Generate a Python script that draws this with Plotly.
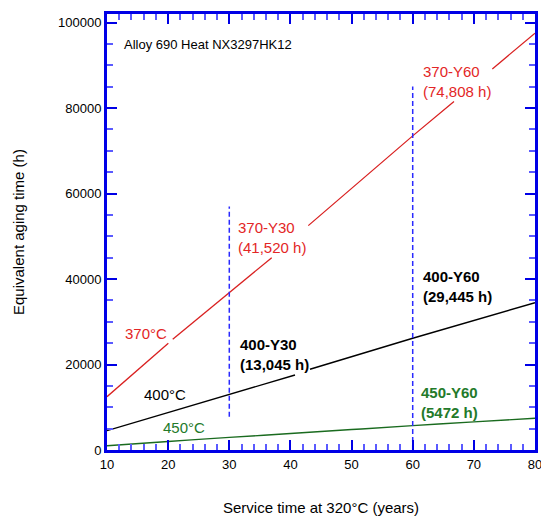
import plotly.graph_objects as go

# ---- data ----
red_x = [10, 20.03, None, 20.75, 30, 36.94, None, 42.92, 60, 66.75, None, 73.02, 80]
red_y = [12470, 24970, None, 25910, 36740, 45000, None, 52490, 73490, 81510, None, 89160, 97520]

black_x = [10, 20, 30, 40.75, None, 43.2, 60, 80]
black_y = [4520, 8800, 13030, 17550, None, 18890, 26140, 34470]

green_x = [10, 20, 30, 40, 50, 60, 70, 80]
green_y = [1000, 2000, 2950, 3850, 4780, 5700, 6580, 7420]

dash30_x = [30, 30]
dash30_y = [7790, 56940]
dash60_x = [60, 60]
dash60_y = [0, 85020]

x_tick_step, x_minor_step = 10, 2
y_tick_step, y_minor_step = 20000, 5000

labels = [
    ("Alloy 690 Heat NX3297HK12", 12.66, 94900, "#000000", False),
    ("370°C", 12.78, 27260, "#e32626", False),
    ("370-Y30<br>(41,520 h)", 31.31, 49820, "#e32626", False),
    ("370-Y60<br>(74,808 h)", 61.47, 86120, "#e32626", False),
    ("400°C", 15.94, 13030, "#000000", False),
    ("400-Y30<br>(13,045 h)", 31.64, 22350, "#000000", True),
    ("400-Y60<br>(29,445 h)", 61.47, 38150, "#000000", True),
    ("450°C", 18.95, 5310, "#237a2a", False),
    ("450-Y60<br>(5472 h)", 61.19, 11120, "#237a2a", True),
]

FONT = "Liberation Sans, Arial, sans-serif"
AXC = "#0000e6"

fig = go.Figure()
fig.add_trace(go.Scatter(x=red_x, y=red_y, mode="lines", line=dict(color="#d92020", width=1.3),
                         showlegend=False))
fig.add_trace(go.Scatter(x=black_x, y=black_y, mode="lines", line=dict(color="#000000", width=1.4),
                         showlegend=False))
fig.add_trace(go.Scatter(x=green_x, y=green_y, mode="lines", line=dict(color="#1a6b1f", width=1.4),
                         line_shape="spline", showlegend=False))
for dx, dy in ((dash30_x, dash30_y), (dash60_x, dash60_y)):
    fig.add_trace(go.Scatter(x=dx, y=dy, mode="lines",
                             line=dict(color="#2a2aff", width=1.5, dash="5px,3px"),
                             showlegend=False))

for text, x, y, color, bold in labels:
    fig.add_annotation(x=x, y=y, xref="x", yref="y", text=(f"<b>{text}</b>" if bold else text),
                       showarrow=False, xanchor="left", yanchor="middle", align="left",
                       font=dict(family=FONT, size=15 if "Alloy" not in text else 13, color=color),
                       borderpad=0)

fig.add_annotation(x=0.5, y=0, xref="paper", yref="paper", text="Service time at 320°C (years)",
                   showarrow=False, xanchor="center", yanchor="middle", yshift=-57,
                   font=dict(family=FONT, size=15, color="#000000"))
fig.add_annotation(x=0, y=0.5, xref="paper", yref="paper", text="Equivalent aging time (h)",
                   showarrow=False, xanchor="center", yanchor="middle", xshift=-89, textangle=-90,
                   font=dict(family=FONT, size=15, color="#000000"))

fig.update_xaxes(range=[10, 80], showline=True, linecolor=AXC, linewidth=3, mirror="ticks",
                 ticks="inside", ticklen=10, tickwidth=2, tickcolor=AXC,
                 dtick=x_tick_step, tick0=10, tickmode="linear",
                 minor=dict(ticks="inside", ticklen=6, tickcolor="#5a5aff", dtick=x_minor_step,
                            tick0=10, tickmode="linear"),
                 ticklabeloverflow="allow", automargin=False,
                 tickfont=dict(family=FONT, size=13, color="#000000"))
fig.update_yaxes(range=[0, 102000], showline=True, linecolor=AXC, linewidth=3, mirror="ticks",
                 ticks="inside", ticklen=10, tickwidth=2, tickcolor=AXC,
                 dtick=y_tick_step, tick0=0, tickmode="linear", tickformat="d",
                 minor=dict(ticks="inside", ticklen=6, tickcolor="#5a5aff", dtick=y_minor_step),
                 automargin=False,
                 tickfont=dict(family=FONT, size=13, color="#000000"))

fig.update_layout(width=541, height=516, margin=dict(l=107, r=6, t=14, b=66), plot_bgcolor="white")

fig.write_html("out.html")
